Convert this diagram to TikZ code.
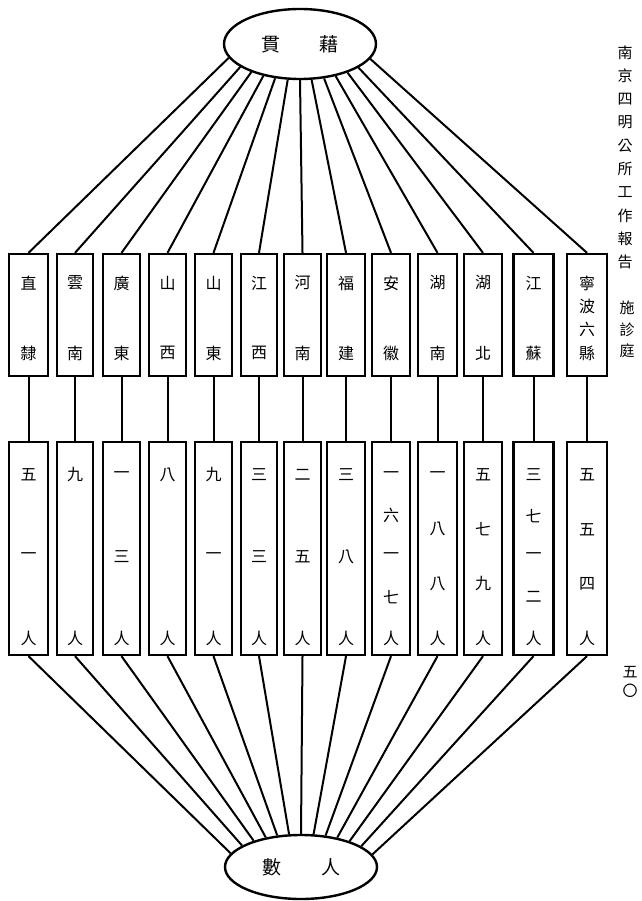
\documentclass[tikz,border=0pt]{standalone}
\usepackage{fontspec}
\newfontfamily\cjk{Noto Sans CJK TC}
\usetikzlibrary{shapes.geometric}
\begin{document}
\begin{tikzpicture}[x=1pt,y=-1pt,
  ell/.style={draw, ellipse, line width=2.4pt, inner sep=0pt, font=\cjk\fontsize{19}{19}\selectfont},
  box/.style={draw, line width=2.3pt, inner sep=0pt},
  chr/.style={inner sep=0pt, font=\cjk\fontsize{16}{16}\selectfont},
  side/.style={inner sep=0pt, font=\cjk\fontsize{15}{15}\selectfont},
  link/.style={line width=2pt}]
\useasboundingbox (0,0) rectangle (641,901);
\node[ell, minimum width=152pt, minimum height=70pt] (top) at (300,44) {貫\hspace{40pt}藉};
\node[ell, minimum width=152pt, minimum height=64pt] (bot) at (301,867) {數\hspace{40pt}人};
\foreach \i/\x/\w/\nt/\ct/\nb/\cb in {
  1/28.5/39/2/{直,隸}/3/{五,一,人},
  2/75/36/2/{雲,南}/2/{九,人},
  3/121.5/37/2/{廣,東}/3/{一,三,人},
  4/167.5/37/2/{山,西}/2/{八,人},
  5/213.5/37/2/{山,東}/3/{九,一,人},
  6/259/36/2/{江,西}/3/{三,三,人},
  7/302.5/37/2/{河,南}/3/{二,五,人},
  8/346/38/2/{福,建}/3/{三,八,人},
  9/391/38/2/{安,徽}/5/{一,六,一,七,人},
  10/437.5/39/2/{湖,南}/4/{一,八,八,人},
  11/483/38/2/{湖,北}/4/{五,七,九,人},
  12/533.5/40/2/{江,蘇}/5/{三,七,一,二,人},
  13/587/40/4/{寧,波,六,縣}/4/{五,五,四,人}}{
  \node[box, minimum width=\w pt, minimum height=122pt] (tb\i) at (\x,315) {};
  \node[box, minimum width=\w pt, minimum height=213pt] (bb\i) at (\x,548.5) {};
  \foreach \c [count=\k] in \ct {
    \node[chr] (tc\i-\k) at (\x,{283+(\k-1)*70/(\nt-1)}) {\c};
  }
  \foreach \c [count=\k] in \cb {
    \node[chr] (bc\i-\k) at (\x,{475+(\k-1)*163/(\nb-1)}) {\c};
  }
  \draw[link] (tb\i) -- (bb\i);
  \pgfmathsetmacro\dx{-70+(\i-1)*140/12}
  \pgfmathsetmacro\dyt{35*sqrt(1-(\dx/76)^2)}
  \pgfmathtruncatemacro\at{360+atan2(-\dyt,\dx)}
  \draw[link] (top.\at) -- (tb\i.north);
  \pgfmathsetmacro\dyb{32*sqrt(1-(\dx/76)^2)}
  \pgfmathtruncatemacro\ab{atan2(\dyb,\dx)}
  \draw[link] (bb\i.south) -- (bot.\ab);
}
\foreach \c [count=\k] in {南,京,四,明,公,所,工,作,報,告}
  \node[side] (s\k) at (625,{53+(\k-1)*23.2}) {\c};
\foreach \c [count=\k] in {施,診,庭}
  \node[side] (n\k) at (627,{308+(\k-1)*21.5}) {\c};
\node[side] (pg1) at (630,672) {五};
\node[side] (pg2) at (630,691) {〇};
\end{tikzpicture}
\end{document}
